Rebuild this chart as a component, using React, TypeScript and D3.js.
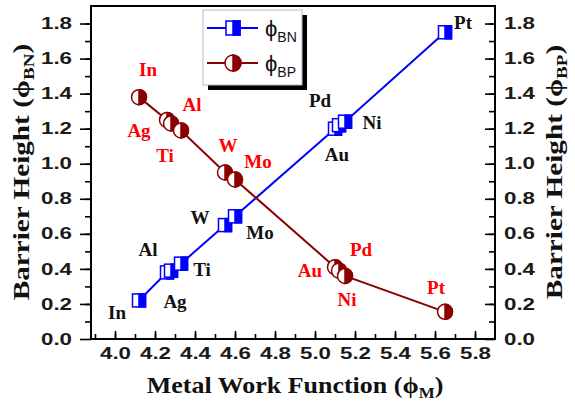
import React, { useRef, useEffect } from 'react';
import * as d3 from 'd3';

const metals = ['In', 'Ag', 'Al', 'Ti', 'W', 'Mo', 'Au', 'Pd', 'Ni', 'Pt'];
const workFunction = [4.12, 4.26, 4.28, 4.33, 4.55, 4.6, 5.1, 5.12, 5.15, 5.65];
const phiBN = [0.22, 0.38, 0.39, 0.43, 0.65, 0.7, 1.2, 1.22, 1.24, 1.75];
const phiBP = [1.38, 1.25, 1.23, 1.19, 0.95, 0.91, 0.41, 0.39, 0.36, 0.155];
const xTicks = [4.0, 4.2, 4.4, 4.6, 4.8, 5.0, 5.2, 5.4, 5.6, 5.8];
const yTicks = [0.0, 0.2, 0.4, 0.6, 0.8, 1.0, 1.2, 1.4, 1.6, 1.8];

// where each metal name sits relative to its marker (px)
const bnLabelOffset = [[-22, 12], [8, 29], [-23, -21], [21, 6], [-25, -8], [25, 16], [2, 26], [-19, -25], [27, 1], [18, -10]];
const bpLabelOffset = [[9, -28], [-28, 11], [21, -19], [-16, 25], [3, -27], [23, -18], [-25, 3], [22, -21], [2, 24], [-9, -24]];

const W = 575, H = 408;
const left = 91, right = 495, top = 6, bottom = 339;
const BLUE = '#0000ff';
const MAROON = '#8b0000';
const SERIF = '"Liberation Serif", "Times New Roman", serif';
const SANS = '"Liberation Sans", Arial, sans-serif';

const x = d3.scaleLinear().domain([3.88, 5.9]).range([left, right]);
const y = d3.scaleLinear().domain([0, 1.9]).range([bottom, top]);

function HalfSquare({ cx, cy, s = 13 }) {
  return (
    <g>
      <rect x={cx - s / 2} y={cy - s / 2} width={s} height={s} fill="#fff" stroke={BLUE} strokeWidth={1.5} />
      <rect x={cx} y={cy - s / 2} width={s / 2} height={s} fill={BLUE} stroke={BLUE} strokeWidth={1.5} />
    </g>
  );
}

function HalfCircle({ cx, cy, r = 7.5 }) {
  return (
    <g>
      <circle cx={cx} cy={cy} r={r} fill="#fff" stroke={MAROON} strokeWidth={1.5} />
      <path d={`M${cx},${cy - r}A${r},${r} 0 0 1 ${cx},${cy + r}Z`} fill={MAROON} stroke={MAROON} strokeWidth={1.5} />
    </g>
  );
}

// axis title with a subscript, stretched a little along its length
function Title({ transform, main, sub }) {
  return (
    <g transform={transform}>
      <text textAnchor="middle" fontFamily={SERIF} fontWeight="bold" fontSize={23} fill="#111">
        {main}(ϕ<tspan fontSize={15} baselineShift="-5">{sub}</tspan>)
      </text>
    </g>
  );
}

function App() {
  const svgRef = useRef(null);

  useEffect(() => {
    const svg = d3.select(svgRef.current);
    const fmt = d3.format('.1f');
    const xMinor = d3.range(3.9, 5.85, 0.1);
    const yMinor = d3.range(0.1, 1.85, 0.1);

    const styleText = (g) => {
      g.select('.domain').remove();
      g.selectAll('line').attr('stroke', '#000').attr('stroke-width', 1.6);
      g.selectAll('text')
        .attr('font-family', SANS)
        .attr('font-weight', 'bold')
        .attr('font-size', 16)
        .attr('fill', '#1a1a1a')
        .attr('textLength', 31)
        .attr('lengthAdjust', 'spacingAndGlyphs');
    };

    // left axis, outward ticks
    svg.select('.y-minor').attr('transform', `translate(${left},0)`)
      .call(d3.axisLeft(y).tickValues(yMinor).tickSize(6).tickFormat(() => '')).call(styleText);
    svg.select('.y-axis').attr('transform', `translate(${left},0)`)
      .call(d3.axisLeft(y).tickValues(yTicks).tickSize(11).tickPadding(8).tickFormat(fmt)).call(styleText);

    // right axis, inward ticks
    svg.select('.y2-minor').attr('transform', `translate(${right},0)`)
      .call(d3.axisRight(y).tickValues(yMinor).tickSize(-6).tickFormat(() => '')).call(styleText);
    svg.select('.y2-axis').attr('transform', `translate(${right},0)`)
      .call(d3.axisRight(y).tickValues(yTicks).tickSize(-10).tickPadding(9).tickFormat(fmt)).call(styleText);

    // bottom axis, inward ticks
    svg.select('.x-minor').attr('transform', `translate(0,${bottom})`)
      .call(d3.axisBottom(x).tickValues(xMinor).tickSize(-5).tickFormat(() => '')).call(styleText);
    svg.select('.x-axis').attr('transform', `translate(0,${bottom})`)
      .call(d3.axisBottom(x).tickValues(xTicks).tickSize(-8).tickPadding(9).tickFormat(fmt)).call(styleText);
  }, []);

  const seriesLine = d3.line<number>().x((d, i) => x(workFunction[i])).y((d) => y(d));

  return (
    <svg ref={svgRef} width={W} height={H} style={{ position: 'absolute', left: 0, top: 0, background: '#fff' }}>
      <rect x={0} y={0} width={W} height={H} fill="#fff" />
      <g className="y-minor" />
      <g className="y-axis" />
      <g className="y2-minor" />
      <g className="y2-axis" />
      <g className="x-minor" />
      <g className="x-axis" />
      <rect x={left} y={top} width={right - left} height={bottom - top} fill="none" stroke="#000" strokeWidth={2} />

      <path d={seriesLine(phiBN)} fill="none" stroke={BLUE} strokeWidth={2} />
      <path d={seriesLine(phiBP)} fill="none" stroke={MAROON} strokeWidth={2} />

      {phiBN.map((v, i) => (
        <HalfSquare key={'s' + i} cx={x(workFunction[i])} cy={y(v)} />
      ))}
      {phiBP.map((v, i) => (
        <HalfCircle key={'c' + i} cx={x(workFunction[i])} cy={y(v)} />
      ))}

      <g fontFamily={SERIF} fontWeight="bold" fontSize={19} textAnchor="middle" dominantBaseline="central">
        {metals.map((m, i) => (
          <text key={'bn' + m} x={x(workFunction[i]) + bnLabelOffset[i][0]} y={y(phiBN[i]) + bnLabelOffset[i][1]} fill="#111">{m}</text>
        ))}
        {metals.map((m, i) => (
          <text key={'bp' + m} x={x(workFunction[i]) + bpLabelOffset[i][0]} y={y(phiBP[i]) + bpLabelOffset[i][1]} fill="#ff0000">{m}</text>
        ))}
      </g>

      {/* legend */}
      <rect x={208} y={15} width={99} height={75} fill="#000" />
      <rect x={203} y={10} width={99} height={75} fill="#fff" stroke="#bbb" strokeWidth={1} />
      <line x1={207} x2={258} y1={28} y2={28} stroke={BLUE} strokeWidth={2} />
      <HalfSquare cx={233} cy={28} s={14} />
      <line x1={207} x2={258} y1={63} y2={63} stroke={MAROON} strokeWidth={2} />
      <HalfCircle cx={233} cy={63} r={8} />
      <text x={265} y={36} fontFamily={SANS} fontSize={22} fill="#111">ϕ<tspan fontSize={14} dy={6}>BN</tspan></text>
      <text x={265} y={71} fontFamily={SANS} fontSize={22} fill="#111">ϕ<tspan fontSize={14} dy={6}>BP</tspan></text>

      {/* axis titles */}
      <Title transform="translate(295,393) scale(1.13,1)" main="Metal Work Function " sub="M" />
      <Title transform="translate(29,172) rotate(-90) scale(1.27,1)" main="Barrier Height " sub="BN" />
      <Title transform="translate(562,172) rotate(-90) scale(1.27,1)" main="Barrier Height " sub="BP" />
    </svg>
  );
}

export default App;
